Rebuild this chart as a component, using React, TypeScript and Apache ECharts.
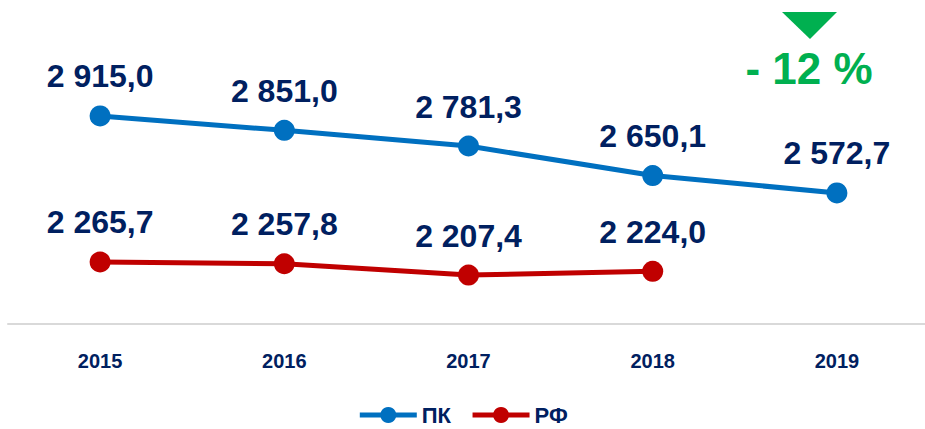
import React, { useEffect, useRef } from "react";
import * as echarts from "echarts";

const years = ["2015", "2016", "2017", "2018", "2019"];
const pkValues = [2915.0, 2851.0, 2781.3, 2650.1, 2572.7];
const rfValues = [2265.7, 2257.8, 2207.4, 2224.0];
const seriesNames = ["ПК", "РФ"];
const changeLabel = "- 12 %";

const fmt = (v: number) => {
  const [i, d] = v.toFixed(1).split(".");
  const int = i.replace(/\B(?=(\d{3})+(?!\d))/g, " ");
  return int + "," + d;
};

export default function App() {
  const ref = useRef<HTMLDivElement>(null);
  useEffect(() => {
    if (!ref.current) return;
    const chart = echarts.init(ref.current, null, { renderer: "svg" });
    const labelStyle = {
      show: true,
      position: "top" as const,
      distance: 13,
      fontFamily: "Liberation Sans",
      fontWeight: "bold" as const,
      fontSize: 32,
      color: "#002060",
      formatter: (p: any) => fmt(p.value),
    };
    chart.setOption({
      animation: false,
      grid: {
        left: 8,
        width: 921,
        top: 8,
        bottom: 105,
        containLabel: false,
        outerBoundsMode: "none",
      },
      xAxis: {
        type: "category",
        data: years,
        boundaryGap: true,
        axisLine: { show: true, lineStyle: { color: "#d9d9d9", width: 2 } },
        axisTick: { show: false },
        axisLabel: {
          margin: 27,
          fontFamily: "Liberation Sans",
          fontWeight: "bold",
          fontSize: 20,
          color: "#002060",
        },
        splitLine: { show: false },
      },
      yAxis: {
        type: "value",
        min: 1990,
        max: 3395,
        show: false,
        splitLine: { show: false },
      },
      legend: {
        data: seriesNames,
        left: "center",
        top: 404,
        padding: 0,
        itemWidth: 57,
        itemHeight: 20,
        itemGap: 19,
        lineStyle: { width: 5 },
        textStyle: {
          fontFamily: "Liberation Sans",
          fontWeight: "bold",
          fontSize: 22,
          lineHeight: 20,
          color: "#002060",
        },
      },
      series: [
        {
          name: seriesNames[0],
          type: "line",
          data: pkValues,
          symbol: "circle",
          symbolSize: 21,
          lineStyle: { color: "#0070C0", width: 5 },
          itemStyle: { color: "#0070C0" },
          label: labelStyle,
        },
        {
          name: seriesNames[1],
          type: "line",
          data: rfValues,
          symbol: "circle",
          symbolSize: 21,
          lineStyle: { color: "#C00000", width: 5 },
          itemStyle: { color: "#C00000" },
          label: labelStyle,
        },
      ],
      graphic: [
        {
          type: "polygon",
          shape: { points: [[782, 12], [837, 12], [810, 39]] },
          style: { fill: "#00B050" },
        },
        {
          type: "text",
          x: 809,
          y: 68,
          style: {
            text: changeLabel,
            fill: "#00B050",
            fontFamily: "Liberation Sans",
            fontWeight: "bold",
            fontSize: 44,
            textAlign: "center",
            textVerticalAlign: "middle",
          },
        },
      ],
    });
    return () => chart.dispose();
  }, []);
  return (
    <div
      ref={ref}
      style={{ position: "fixed", left: 0, top: 0, width: 925, height: 429, background: "#fff" }}
    />
  );
}
